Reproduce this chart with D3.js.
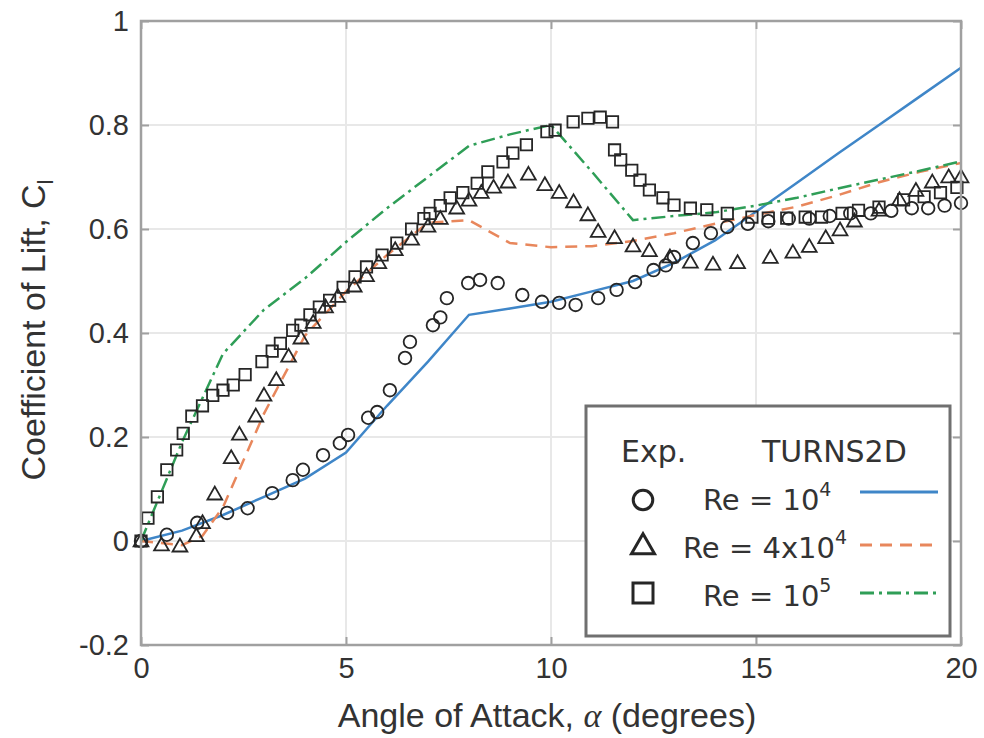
<!DOCTYPE html>
<html>
<head>
<meta charset="utf-8">
<script src="https://cdn.jsdelivr.net/npm/d3@7"></script>
<style>
  body { margin: 0; background: #fff; }
  svg text { font-family: "Liberation Sans", Arial, sans-serif; fill: #333; }
</style>
</head>
<body>
<div id="chart"></div>
<script>
// experiment, Re = 1e4 (circles)
var circAlpha = [0, 0.63, 1.37, 2.1, 2.6, 3.2, 3.7, 3.95, 4.44, 4.85, 5.05, 5.54, 5.76, 6.07, 6.44, 6.56, 7.12, 7.3, 7.46, 7.98, 8.27, 8.7, 9.3, 9.78, 10.2, 10.6, 11.15, 11.6, 12.05, 12.5, 12.8, 13.0, 13.46, 13.9, 14.3, 14.8, 15.3, 15.8, 16.3, 16.8, 17.3, 17.8, 18.3, 18.8, 19.2, 19.6, 20];
var circCl    = [0, 0.012, 0.035, 0.054, 0.063, 0.092, 0.117, 0.137, 0.165, 0.188, 0.204, 0.237, 0.248, 0.29, 0.352, 0.383, 0.415, 0.43, 0.467, 0.496, 0.502, 0.496, 0.473, 0.46, 0.458, 0.454, 0.467, 0.483, 0.498, 0.521, 0.53, 0.546, 0.573, 0.592, 0.604, 0.61, 0.615, 0.62, 0.62, 0.625, 0.63, 0.63, 0.635, 0.64, 0.64, 0.645, 0.65];

// experiment, Re = 4e4 (triangles)
var triAlpha = [0, 0.5, 0.95, 1.35, 1.5, 1.8, 2.2, 2.4, 2.8, 3.0, 3.3, 3.6, 3.9, 4.2, 4.5, 4.8, 5.2, 5.5, 5.8, 6.2, 6.6, 7.0, 7.3, 7.7, 8.0, 8.3, 8.6, 8.95, 9.45, 9.85, 10.2, 10.55, 10.9, 11.15, 11.55, 12.0, 12.4, 12.9, 13.4, 13.95, 14.55, 15.35, 15.9, 16.3, 16.7, 17.05, 17.4, 18.0, 18.5, 18.9, 19.3, 19.7, 20.0];
var triCl    = [0, -0.008, -0.01, 0.01, 0.035, 0.09, 0.16, 0.205, 0.24, 0.28, 0.31, 0.355, 0.39, 0.42, 0.45, 0.47, 0.49, 0.51, 0.535, 0.56, 0.58, 0.605, 0.62, 0.64, 0.655, 0.67, 0.68, 0.69, 0.705, 0.685, 0.67, 0.652, 0.627, 0.595, 0.583, 0.567, 0.558, 0.546, 0.536, 0.532, 0.535, 0.545, 0.555, 0.566, 0.583, 0.598, 0.615, 0.636, 0.656, 0.674, 0.69, 0.70, 0.70];

// experiment, Re = 1e5 (squares)
var sqAlpha = [0, 0.17, 0.4, 0.63, 0.87, 1.03, 1.24, 1.5, 1.75, 2.0, 2.25, 2.54, 2.95, 3.2, 3.4, 3.7, 3.9, 4.12, 4.35, 4.6, 4.93, 5.22, 5.5, 5.88, 6.24, 6.6, 6.9, 7.05, 7.3, 7.54, 7.85, 8.2, 8.46, 8.83, 9.07, 9.4, 9.9, 10.1, 10.54, 10.9, 11.2, 11.5, 11.55, 11.7, 11.97, 12.17, 12.4, 12.73, 13.0, 13.4, 13.8, 14.3, 14.9, 15.3, 15.75, 16.2, 16.6, 17.1, 17.5, 18.0, 18.6, 19.1, 19.5, 19.9];
var sqCl    = [0, 0.044, 0.085, 0.137, 0.175, 0.207, 0.24, 0.26, 0.28, 0.29, 0.30, 0.32, 0.345, 0.365, 0.38, 0.405, 0.415, 0.435, 0.45, 0.463, 0.488, 0.508, 0.527, 0.55, 0.573, 0.6, 0.62, 0.63, 0.645, 0.66, 0.67, 0.688, 0.71, 0.729, 0.746, 0.762, 0.787, 0.79, 0.806, 0.813, 0.815, 0.806, 0.752, 0.733, 0.713, 0.694, 0.675, 0.66, 0.646, 0.64, 0.637, 0.63, 0.623, 0.621, 0.621, 0.623, 0.623, 0.63, 0.636, 0.642, 0.656, 0.662, 0.67, 0.68];

// TURNS2D
var simAlpha = [0, 1, 2, 3, 4, 5, 6, 7, 8, 9, 10, 11, 12, 13, 14, 15, 16, 17, 18, 19, 20];
var sim1e4   = [0, 0.02, 0.05, 0.085, 0.12, 0.17, 0.26, 0.345, 0.435, 0.447, 0.46, 0.48, 0.5, 0.535, 0.578, 0.633, 0.689, 0.745, 0.8, 0.855, 0.91];
var sim4e4Alpha = [0, 1, 1.5, 2, 3, 4, 5, 6, 7, 8, 9, 10, 11, 12, 13, 14, 15, 16, 17, 18, 19, 20];
var sim4e4   = [0, -0.008, 0.01, 0.065, 0.245, 0.395, 0.48, 0.55, 0.612, 0.617, 0.573, 0.565, 0.567, 0.577, 0.592, 0.61, 0.627, 0.643, 0.665, 0.69, 0.71, 0.727];
var sim1e5   = [0, 0.19, 0.36, 0.445, 0.505, 0.575, 0.64, 0.70, 0.76, 0.782, 0.80, 0.71, 0.617, 0.625, 0.632, 0.645, 0.66, 0.678, 0.695, 0.712, 0.73];

var xTicks = [0, 5, 10, 15, 20];
var yTicks = [-0.2, 0, 0.2, 0.4, 0.6, 0.8, 1];

var W = 984, H = 738;
var svg = d3.select("#chart").append("svg").attr("width", W).attr("height", H);

var x = d3.scaleLinear().domain([0, 20]).range([141, 961]);
var y = d3.scaleLinear().domain([-0.2, 1]).range([645, 21]);

var blue = "#3f86c8", orange = "#e8875c", green = "#2f9e57", ink = "#262626";

// grid
svg.append("g").selectAll("line").data(xTicks.slice(1, -1)).enter().append("line")
  .attr("x1", function(d) { return x(d); }).attr("x2", function(d) { return x(d); })
  .attr("y1", y(1)).attr("y2", y(-0.2))
  .attr("stroke", "#e8e8e8").attr("stroke-width", 2);
svg.append("g").selectAll("line").data(yTicks.slice(1, -1)).enter().append("line")
  .attr("x1", x(0)).attr("x2", x(20))
  .attr("y1", function(d) { return y(d); }).attr("y2", function(d) { return y(d); })
  .attr("stroke", "#e8e8e8").attr("stroke-width", 2);

// axes
var fmt = function(d) { return String(+d.toFixed(1)); };
function styleAxis(g) {
  g.select(".domain").remove();
  g.selectAll(".tick line").attr("stroke", "#a0a0a0").attr("stroke-width", 2);
  g.selectAll("text").style("font-size", "29px").attr("fill", "#333");
}
svg.append("g").attr("transform", "translate(0," + y(-0.2) + ")")
  .call(d3.axisBottom(x).tickValues(xTicks).tickFormat(fmt).tickSize(-8).tickPadding(12))
  .call(styleAxis);
svg.append("g").attr("transform", "translate(" + x(0) + ",0)")
  .call(d3.axisLeft(y).tickValues(yTicks).tickFormat(fmt).tickSize(-8).tickPadding(12))
  .call(styleAxis);
svg.append("g").attr("transform", "translate(0," + y(1) + ")")
  .call(d3.axisTop(x).tickValues(xTicks).tickFormat("").tickSize(-8))
  .call(styleAxis);
svg.append("g").attr("transform", "translate(" + x(20) + ",0)")
  .call(d3.axisRight(y).tickValues(yTicks).tickFormat("").tickSize(-8))
  .call(styleAxis);

// simulation lines
function drawLine(xs, ys, color, dash) {
  var pts = xs.map(function(a, i) { return [a, ys[i]]; });
  svg.append("path").datum(pts)
    .attr("fill", "none").attr("stroke", color).attr("stroke-width", 2.5)
    .attr("stroke-dasharray", dash)
    .attr("d", d3.line().x(function(d) { return x(d[0]); }).y(function(d) { return y(d[1]); }));
}
drawLine(simAlpha, sim1e4, blue, null);
drawLine(sim4e4Alpha, sim4e4, orange, "12,8");
drawLine(simAlpha, sim1e5, green, "14,5,3,5");

// experimental markers
var symCircle = d3.symbol().type(d3.symbolCircle).size(125);
var symTri = d3.symbol().type(d3.symbolTriangle).size(95);
var symSq = d3.symbol().type(d3.symbolSquare).size(130);
function drawMarks(xs, ys, sym, dy) {
  svg.append("g").selectAll("path").data(xs.map(function(a, i) { return [a, ys[i]]; }))
    .enter().append("path")
    .attr("transform", function(d) { return "translate(" + x(d[0]) + "," + (y(d[1]) + dy) + ")"; })
    .attr("d", sym)
    .attr("fill", "none").attr("stroke", ink).attr("stroke-width", 1.8);
}
drawMarks(circAlpha, circCl, symCircle, 0);
drawMarks(triAlpha, triCl, symTri, 1);
drawMarks(sqAlpha, sqCl, symSq, 0);

// frame
svg.append("rect").attr("x", x(0)).attr("y", y(1))
  .attr("width", x(20) - x(0)).attr("height", y(-0.2) - y(1))
  .attr("fill", "none").attr("stroke", "#a0a0a0").attr("stroke-width", 2.5);

// axis titles
svg.append("text").attr("x", 547).attr("y", 727).attr("text-anchor", "middle")
  .style("font-size", "34px")
  .call(function(t) {
    t.append("tspan").text("Angle of Attack, ");
    t.append("tspan").style("font-family", "'Liberation Serif', serif").style("font-style", "italic").text("\u03b1");
    t.append("tspan").text(" (degrees)");
  });
svg.append("text").attr("transform", "translate(45,330) rotate(-90)").attr("text-anchor", "middle")
  .style("font-size", "34px")
  .call(function(t) {
    t.append("tspan").text("Coefficient of Lift, C");
    t.append("tspan").attr("dy", 8).style("font-size", "22px").text("l");
  });

// legend
var lg = svg.append("g");
lg.append("rect").attr("x", 586).attr("y", 406).attr("width", 364).attr("height", 230)
  .attr("fill", "#fff").attr("stroke", "#707070").attr("stroke-width", 3);
lg.append("text").attr("x", 621).attr("y", 462).style("font-family", "'DejaVu Sans', sans-serif").style("font-size", "30px").text("Exp.");
lg.append("text").attr("x", 762).attr("y", 462).style("font-family", "'DejaVu Sans', sans-serif").style("font-size", "30px").text("TURNS2D");

var legRows = [
  { sym: d3.symbolCircle, size: 300, cy: 500, base: 510, tx: 703, pre: "Re = 10", sup: "4", color: blue, dash: null, ly: 492 },
  { sym: d3.symbolTriangle, size: 230, cy: 547, base: 558, tx: 683, pre: "Re = 4x10", sup: "4", color: orange, dash: "12,8", ly: 545 },
  { sym: d3.symbolSquare, size: 400, cy: 593, base: 606, tx: 703, pre: "Re = 10", sup: "5", color: green, dash: "14,5,3,5", ly: 593 }
];
legRows.forEach(function(r) {
  lg.append("path").attr("transform", "translate(643," + r.cy + ")")
    .attr("d", d3.symbol().type(r.sym).size(r.size)())
    .attr("fill", "none").attr("stroke", ink).attr("stroke-width", 3);
  var t = lg.append("text").attr("x", r.tx).attr("y", r.base)
    .style("font-family", "'DejaVu Sans', sans-serif").style("font-size", "29px");
  t.append("tspan").text(r.pre);
  t.append("tspan").attr("dy", -14).style("font-size", "19px").text(r.sup);
  lg.append("line").attr("x1", 860).attr("x2", 938).attr("y1", r.ly).attr("y2", r.ly)
    .attr("stroke", r.color).attr("stroke-width", 3).attr("stroke-dasharray", r.dash);
});
</script>
</body>
</html>
